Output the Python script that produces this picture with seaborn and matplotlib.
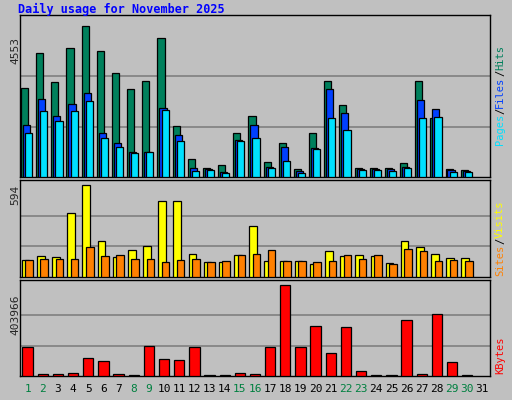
import matplotlib
matplotlib.use("Agg")
import matplotlib.pyplot as plt
import seaborn as sns
import pandas as pd
import numpy as np

sns.set_style("white")
plt.rcParams['font.family'] = ['DejaVu Sans Mono', 'DejaVu Sans']

days = list(range(1, 32))
hits_y = [89,55,83,50,29,53,75,90,82,41,126,158,167,164,133,117,161,143,168,133,82,106,167,167,167,162,82,119,168,169]
files_y = [125,100,117,105,94,133,143,152,152,109,135,167,168,171,140,125,166,147,170,148,90,114,168,168,168,166,101,110,169,170]
pages_y = [133,112,121,112,102,138,147,153,152,111,141,170,169,172,141,138,167,160,172,149,119,130,169,169,170,167,119,118,171,171]
visits_y = [259,255,256,212,184,240,256,249,245,200,200,253,261,261,254,225,260,260,260,263,250,255,254,255,262,240,246,253,257,257]
sites_y = [259,258,258,258,246,255,254,258,258,261,259,258,261,260,254,253,249,260,260,261,260,254,258,254,263,248,250,260,259,260]
kb_y = [346,373,373,372,357,360,373,374,345,358,359,346,374,374,372,373,346,284,346,325,352,326,370,374,374,319,373,313,361,374]

hits = [round((176 - y) * 4553 / 147) for y in hits_y]
files = [round((176 - y) * 4553 / 147) for y in files_y]
pages = [round((176 - y) * 4553 / 147) for y in pages_y]
visits = [round((276 - y) * 594 / 92) for y in visits_y]
sites = [round((276 - y) * 594 / 92) for y in sites_y]
kbytes = [round((375 - y) * 403966 / 91) for y in kb_y]

weekend = {1, 2, 8, 9, 15, 16, 22, 23, 29, 30}
BG = "#C0C0C0"

fig = plt.figure(figsize=(5.12, 4.0), dpi=100, facecolor=BG)
W, H = 512, 400

def mkax(x0, y0, x1, y1):
    ax = fig.add_axes([x0 / W, 1 - y1 / H, (x1 - x0) / W, (y1 - y0) / H])
    ax.set_facecolor(BG)
    return ax

def draw(ax, series, offsets, width, colors, vmax, top_frac):
    n = len(series[0])
    for s, off, c in zip(series, offsets, colors):
        df = pd.DataFrame({"x": np.arange(1, n + 1) + off, "v": s})
        sns.barplot(data=df, x="x", y="v", native_scale=True, width=width,
                    color=c, saturation=1, edgecolor="black", linewidth=0.9, ax=ax, zorder=3)
    ax.set_xlim(0.5, 31.5)
    ax.set_ylim(0, vmax * top_frac)
    for f in (1/3, 2/3):
        ax.axhline(vmax * f, color="#808080", lw=1.2, zorder=1)
    ax.set_xticks([]); ax.set_yticks([])
    ax.set_xlabel(""); ax.set_ylabel("")
    for sp in ax.spines.values():
        sp.set_color("black"); sp.set_linewidth(1)

ax1 = mkax(20, 15, 490, 177)
draw(ax1, [hits, files, pages], [-0.2, -0.07, 0.07], 0.47,
     ["#00805C", "#0040FF", "#00E0FF"], 4553, 161 / 150)
ax2 = mkax(20, 180, 490, 277)
draw(ax2, [visits, sites], [-0.13, 0.1], 0.5, ["#FFFF00", "#FF8000"], 594, 97 / 92)
ax3 = mkax(20, 280, 490, 376)
draw(ax3, [kbytes], [0.0], 0.68, ["#FF0000"], 403966, 96 / 91)

fig.text(18 / W, 1 - 16 / H, "Daily usage for November 2025", color="#0000FF",
         fontsize=8.5, fontweight="bold", va="bottom", ha="left")
fig.text(15 / W, 1 - 50 / H, "4553", rotation=90, fontsize=8, ha="center", va="center")
fig.text(15 / W, 1 - 195 / H, "594", rotation=90, fontsize=8, ha="center", va="center")
fig.text(15 / W, 1 - 315 / H, "403966", rotation=90, fontsize=8, ha="center", va="center")

def vlabel(y_center, parts, fs=7.5):
    total = sum(len(t) for t, _ in parts)
    step = fs * 0.602 * 100 / 72
    y = y_center + total * step / 2
    for t, c in parts:
        fig.text(500 / W, 1 - y / H, t, rotation=90, color=c, fontsize=fs,
                 ha="center", va="bottom")
        y -= len(t) * step

vlabel(95, [("Pages", "#00E0FF"), ("/", "#000000"), ("Files", "#0040FF"), ("/", "#000000"), ("Hits", "#00805C")])
vlabel(238, [("Sites", "#FF8000"), ("/", "#000000"), ("Visits", "#FFFF00")])
vlabel(355, [("KBytes", "#FF0000")])

for d in days:
    x = 20 + (d - 0.5) * 470 / 31
    fig.text(x / W, 1 - 389 / H, str(d), ha="center", va="center", fontsize=8,
             color="#008040" if d in weekend else "black")

fig.savefig("out.png", dpi=100, facecolor=BG)
